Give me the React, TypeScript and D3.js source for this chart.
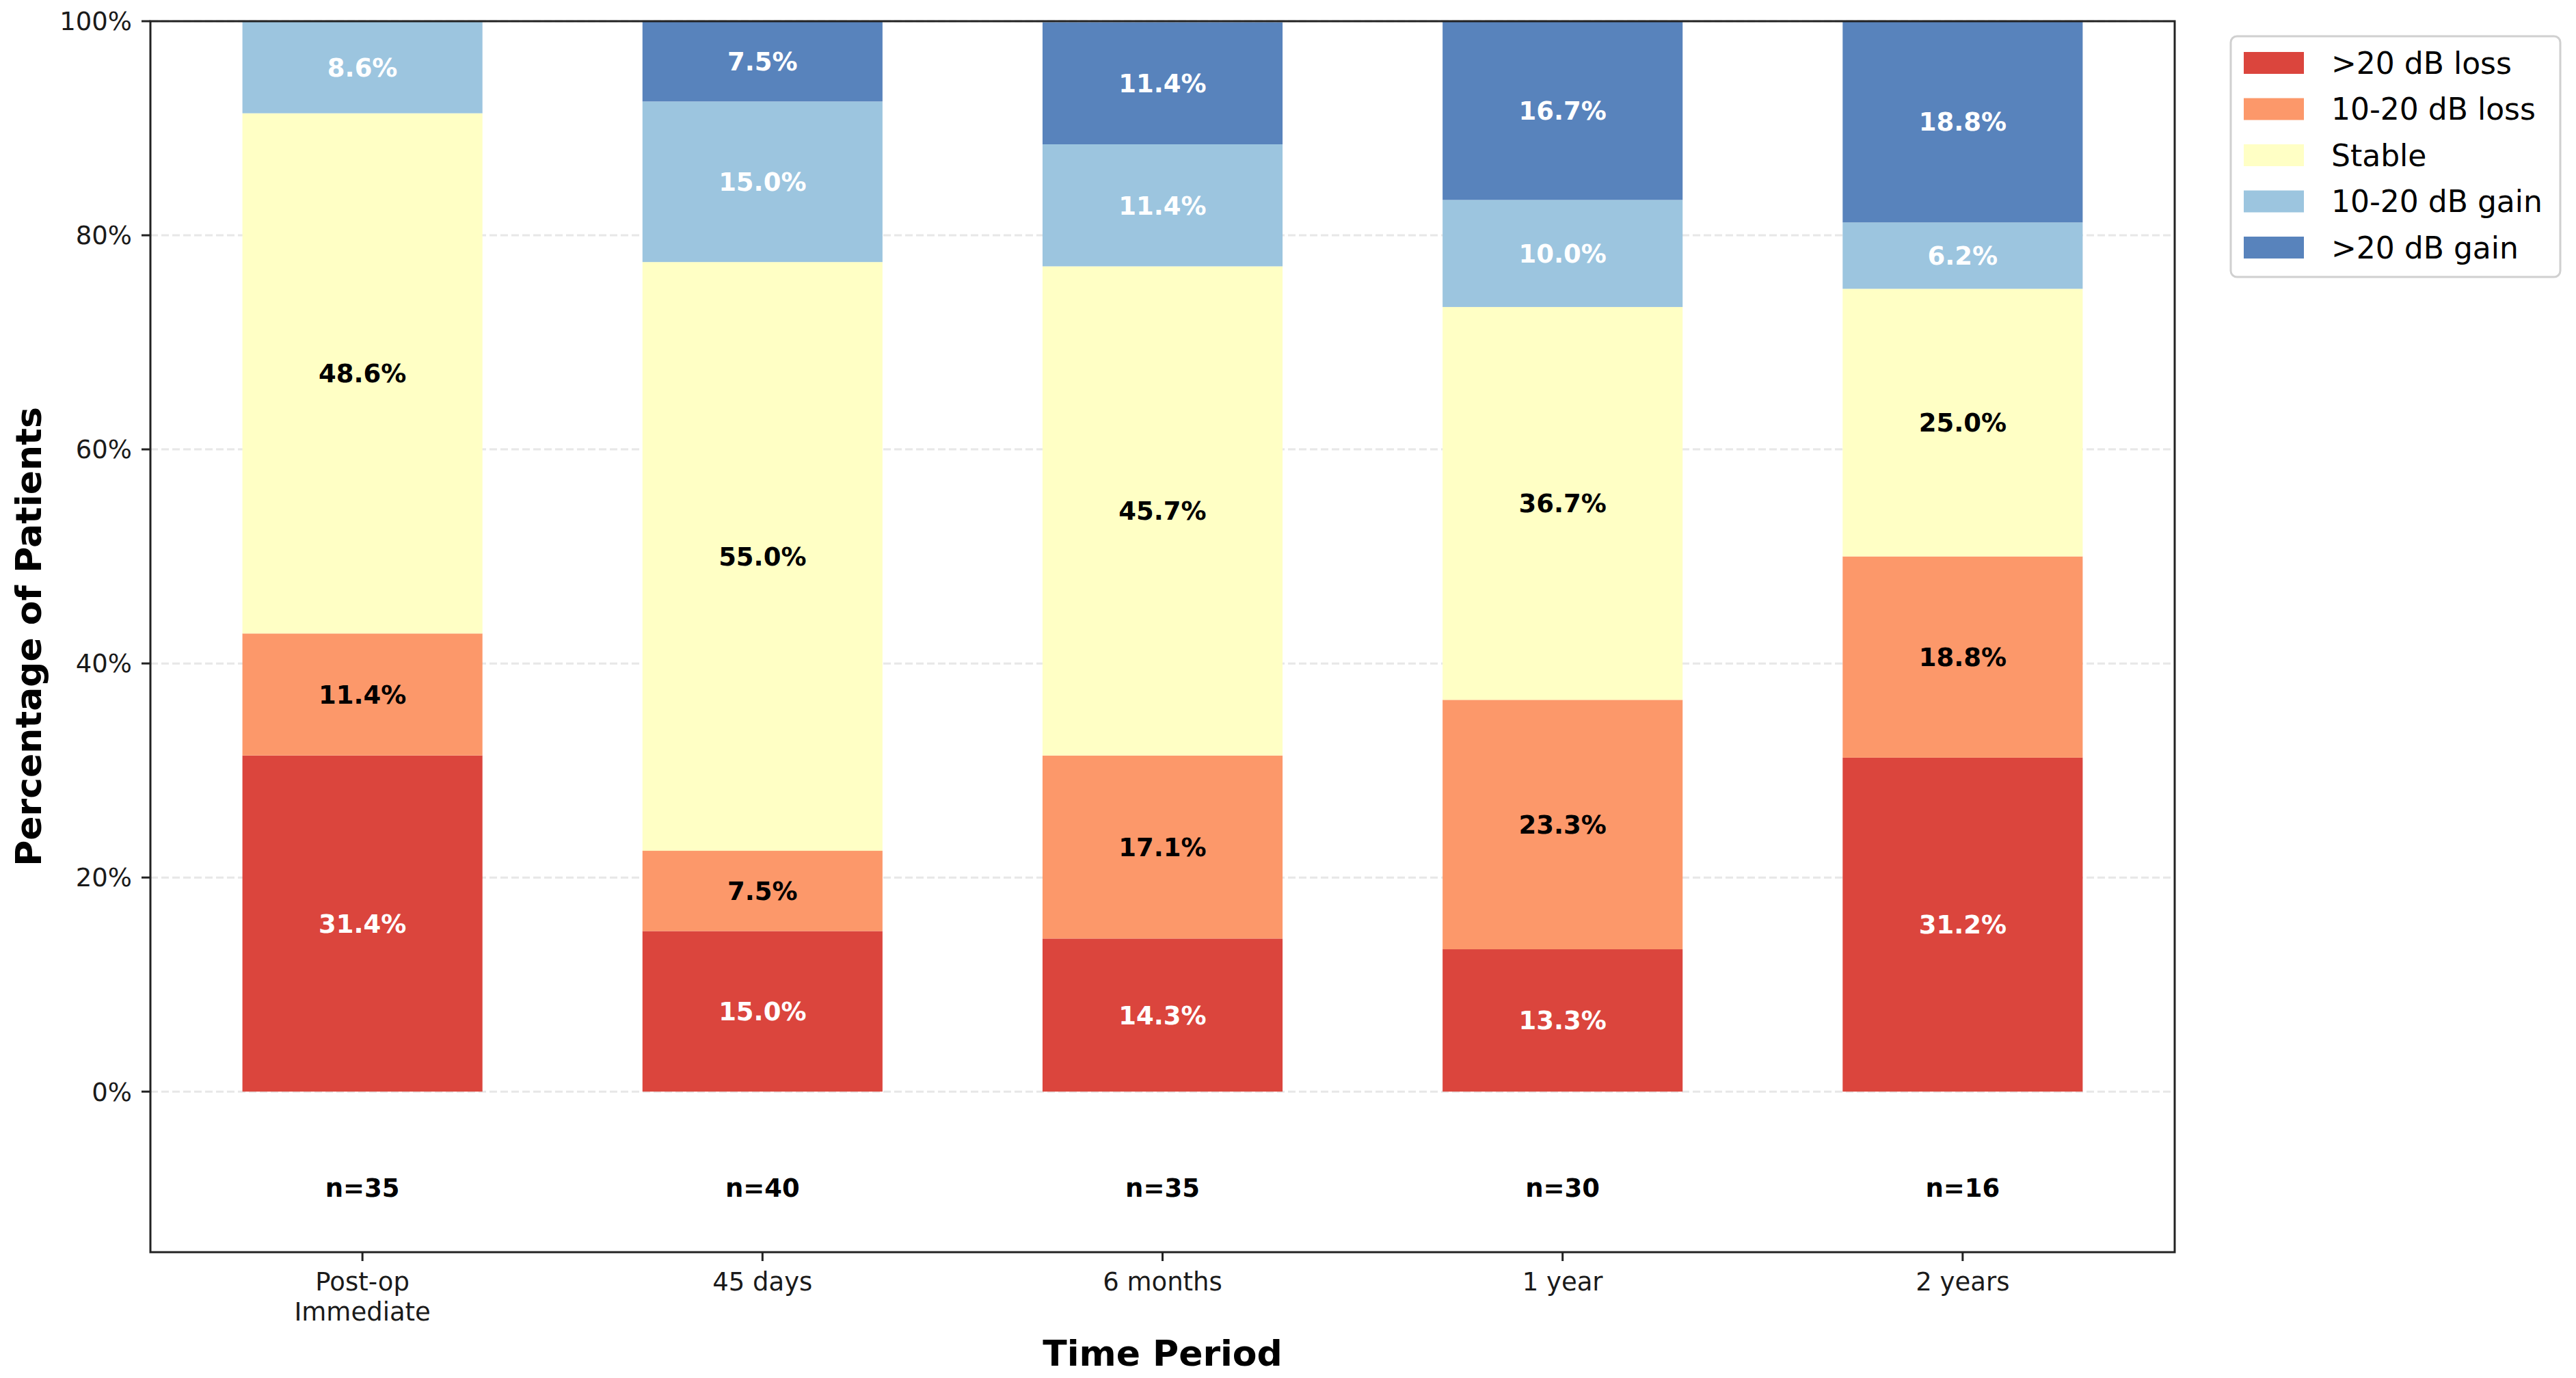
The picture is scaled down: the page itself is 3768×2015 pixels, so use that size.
import React from "react";
import * as d3 from "d3";

const categories = ["Post-op\nImmediate", "45 days", "6 months", "1 year", "2 years"];
const seriesNames = [">20 dB loss", "10-20 dB loss", "Stable", "10-20 dB gain", ">20 dB gain"];
const loss20 = [31.4, 15.0, 14.3, 13.3, 31.2];
const loss10 = [11.4, 7.5, 17.1, 23.3, 18.8];
const stable = [48.6, 55.0, 45.7, 36.7, 25.0];
const gain10 = [8.6, 15.0, 11.4, 10.0, 6.2];
const gain20 = [0, 7.5, 11.4, 16.7, 18.8];
const nCounts = [35, 40, 35, 30, 16];
const yTicks = [0, 20, 40, 60, 80, 100];

const seriesValues = [loss20, loss10, stable, gain10, gain20];
const baseColors = ["#d73027", "#fc8d59", "#ffffbf", "#91bfdb", "#4575b4"];
const textColors = ["#ffffff", "#000000", "#000000", "#ffffff", "#ffffff"];

const W = 3768;
const H = 2015;
const AX = { left: 220, right: 3181, top: 31, bottom: 1831 };
const FONT = "'DejaVu Sans', sans-serif";

function blend(hex: string, alpha: number) {
  const c = d3.rgb(hex);
  return d3.rgb(c.r * alpha + 255 * (1 - alpha), c.g * alpha + 255 * (1 - alpha), c.b * alpha + 255 * (1 - alpha)).formatHex();
}
const colors = baseColors.map((c) => blend(c, 0.9));

export default function App() {
  const x = d3.scaleLinear().domain([-0.53, categories.length - 1 + 0.53]).range([AX.left, AX.right]);
  const y = d3.scaleLinear().domain([-15, 100]).range([AX.bottom, AX.top]);
  const barW = x(0.6) - x(0);

  const stacks = categories.map((_, i) => {
    let acc = 0;
    return seriesValues.map((vals, s) => {
      const v = vals[i];
      const seg = { s, v, y0: acc, y1: acc + v };
      acc += v;
      return seg;
    });
  });

  return (
    <svg width={W} height={H} style={{ position: "absolute", left: 0, top: 0, background: "#fff" }} fontFamily={FONT}>
      <rect x={0} y={0} width={W} height={H} fill="#fff" />
      {/* grid */}
      {yTicks.map((t) => (
        <line key={"g" + t} x1={AX.left} x2={AX.right} y1={y(t)} y2={y(t)} stroke="#b0b0b0" strokeOpacity={0.3} strokeWidth={3} strokeDasharray="11,5" />
      ))}
      {/* bars */}
      {stacks.map((segs, i) =>
        segs.map((seg) =>
          seg.v > 0 ? (
            <rect key={`b${i}-${seg.s}`} x={x(i) - barW / 2} width={barW} y={y(seg.y1)} height={y(seg.y0) - y(seg.y1)} fill={colors[seg.s]} />
          ) : null
        )
      )}
      {/* segment labels */}
      {stacks.map((segs, i) =>
        segs.map((seg) =>
          seg.v > 0 ? (
            <text key={`l${i}-${seg.s}`} x={x(i)} y={y((seg.y0 + seg.y1) / 2)} dy="0.36em" textAnchor="middle" fontSize={37} fontWeight="bold" fill={textColors[seg.s]}>
              {seg.v.toFixed(1) + "%"}
            </text>
          ) : null
        )
      )}
      {/* n labels */}
      {nCounts.map((n, i) => (
        <text key={"n" + i} x={x(i)} y={y(-9)} dy="0.36em" textAnchor="middle" fontSize={37} fontWeight="bold" fill="#000">
          {"n=" + n}
        </text>
      ))}
      {/* spines */}
      <rect x={AX.left} y={AX.top} width={AX.right - AX.left} height={AX.bottom - AX.top} fill="none" stroke="#222" strokeWidth={3} />
      {/* y ticks */}
      {yTicks.map((t) => (
        <g key={"yt" + t}>
          <line x1={AX.left - 13} x2={AX.left} y1={y(t)} y2={y(t)} stroke="#222" strokeWidth={3} />
          <text x={AX.left - 27} y={y(t)} dy="0.36em" textAnchor="end" fontSize={37} fill="#1a1a1a">
            {t + "%"}
          </text>
        </g>
      ))}
      {/* x ticks */}
      {categories.map((c, i) => (
        <g key={"xt" + i}>
          <line x1={x(i)} x2={x(i)} y1={AX.bottom} y2={AX.bottom + 13} stroke="#222" strokeWidth={3} />
          <text x={x(i)} y={AX.bottom + 56} textAnchor="middle" fontSize={37} fill="#1a1a1a">
            {c.split("\n").map((line, k) => (
              <tspan key={k} x={x(i)} dy={k === 0 ? 0 : 44}>
                {line}
              </tspan>
            ))}
          </text>
        </g>
      ))}
      {/* axis labels */}
      <text x={(AX.left + AX.right) / 2} y={1978} dy="0.36em" textAnchor="middle" fontSize={52} fontWeight="bold" fill="#000">
        Time Period
      </text>
      <text transform={`translate(41,${(AX.top + AX.bottom) / 2}) rotate(-90)`} dy="0.36em" textAnchor="middle" fontSize={52} fontWeight="bold" fill="#000">
        Percentage of Patients
      </text>
      {/* legend */}
      <g>
        <rect x={3263} y={53} width={482} height={352} rx={9} ry={9} fill="#fff" fillOpacity={0.8} stroke="#d0d0d0" strokeWidth={3} />
        {seriesNames.map((name, s) => {
          const cy = 92 + s * 67.5;
          return (
            <g key={"lg" + s}>
              <rect x={3282} y={cy - 16} width={88} height={32} fill={colors[s]} />
              <text x={3410} y={cy} dy="0.36em" fontSize={44} fill="#000">
                {name}
              </text>
            </g>
          );
        })}
      </g>
    </svg>
  );
}
